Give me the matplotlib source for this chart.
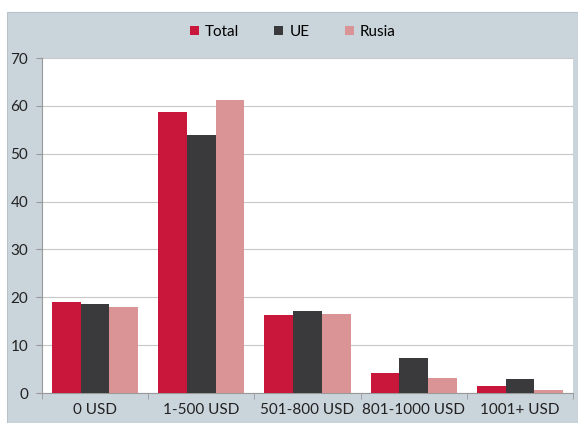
import numpy as np
import matplotlib.pyplot as plt
from matplotlib.patches import Rectangle

# Datos
categorias = ['0 USD', '1-500 USD', '501-800 USD', '801-1000 USD', '1001+ USD']
total = [19.0, 58.7, 16.3, 4.2, 1.5]
ue = [18.6, 53.9, 17.1, 7.3, 2.9]
rusia = [18.0, 61.2, 16.5, 3.1, 0.6]
series = ['Total', 'UE', 'Rusia']
colores = ['#c8173a', '#3a3a3c', '#db9496']

plt.rcParams['font.family'] = ['Lato', 'DejaVu Sans']

fig = plt.figure(figsize=(5.78, 4.23), dpi=100)
fig.patch.set_facecolor('white')
# fondo gris del grafico
fondo = Rectangle((7 / 578, 0), 1 - 7 / 578, 1 - 12 / 423,
                  transform=fig.transFigure, facecolor='#cad4db',
                  edgecolor='#b8c2ca', lw=0.8, zorder=-10)
fig.add_artist(fondo)

ax = fig.add_axes([42 / 578, 30 / 423, 531 / 578, 335 / 423])
ax.set_facecolor('white')

x = np.arange(len(categorias))
w = 0.27
for i, (vals, nombre, c) in enumerate(zip([total, ue, rusia], series, colores)):
    ax.bar(x + (i - 1) * w, vals, w, color=c, label=nombre, zorder=3)

ax.set_ylim(0, 70)
ax.set_yticks(range(0, 71, 10))
ax.set_xlim(-0.5, len(categorias) - 0.5)
ax.set_xticks(x)
ax.set_xticklabels(categorias)
ax.set_xticks(np.arange(-0.5, len(categorias), 1), minor=True)
ax.tick_params(axis='x', which='major', length=0, pad=7, labelsize=11, colors='#222222')
ax.tick_params(axis='x', which='minor', length=4, color='#999999')
ax.tick_params(axis='y', length=4, color='#999999', labelsize=11, colors='#222222', pad=6)
ax.grid(axis='y', color='#c8c8c8', lw=0.8, zorder=0)
for s in ['top', 'right']:
    ax.spines[s].set_visible(False)
ax.spines['left'].set_color('#999999')
ax.spines['bottom'].set_color('#999999')

ax.legend(loc='center', bbox_to_anchor=(0.472, 1.078), ncol=3, frameon=False,
          handlelength=0.6, handleheight=0.6, columnspacing=2.3, handletextpad=0.4,
          fontsize=11)

fig.savefig('out.png', dpi=100)
